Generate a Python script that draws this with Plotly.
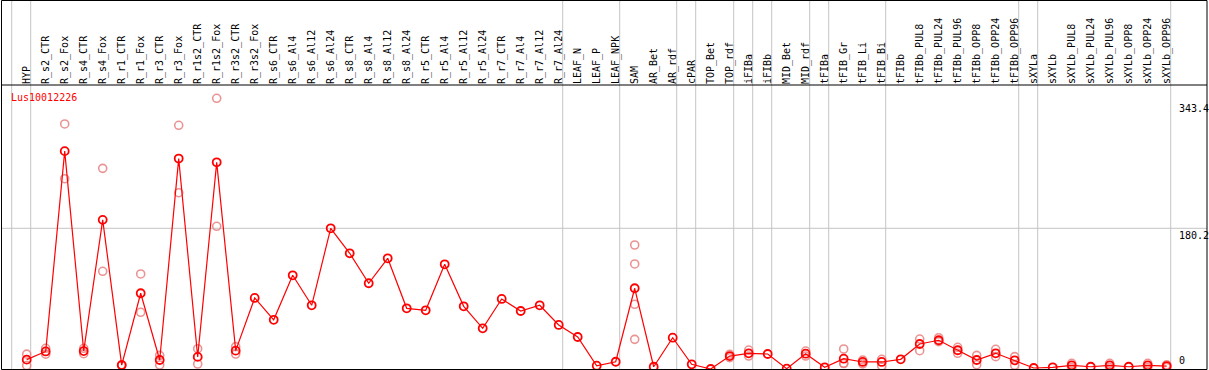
import plotly.graph_objects as go

# ---- data -------------------------------------------------------------
gene = "Lus10012226"

categories = [
    "HYP", "R_s2_CTR", "R_s2_Fox", "R_s4_CTR", "R_s4_Fox", "R_r1_CTR", "R_r1_Fox",
    "R_r3_CTR", "R_r3_Fox", "R_r1s2_CTR", "R_r1s2_Fox", "R_r3s2_CTR", "R_r3s2_Fox",
    "R_s6_CTR", "R_s6_Al4", "R_s6_Al12", "R_s6_Al24", "R_s8_CTR", "R_s8_Al4",
    "R_s8_Al12", "R_s8_Al24", "R_r5_CTR", "R_r5_Al4", "R_r5_Al12", "R_r5_Al24",
    "R_r7_CTR", "R_r7_Al4", "R_r7_Al12", "R_r7_Al24", "LEAF_N", "LEAF_P", "LEAF_NPK",
    "SAM", "AR_Bet", "AR_rdf", "cPAR", "TOP_Bet", "TOP_rdf", "iFIBa", "iFIBb",
    "MID_Bet", "MID_rdf", "tFIBa", "tFIB_Gr", "tFIB_Li", "tFIB_Bi", "tFIBb",
    "tFIBb_PUL8", "tFIBb_PUL24", "tFIBb_PUL96", "tFIBb_OPP8", "tFIBb_OPP24",
    "tFIBb_OPP96", "sXYLa", "sXYLb", "sXYLb_PUL8", "sXYLb_PUL24", "sXYLb_PUL96",
    "sXYLb_OPP8", "sXYLb_OPP24", "sXYLb_OPP96",
]

# mean expression per sample
mean_values = [
    12, 22.5, 279, 23, 191, 5, 97, 11.5, 269.5, 15.5, 264.7, 23.5, 91,
    63, 120, 81.6, 180.2, 148.2, 109.8, 141.8, 77.7, 75.2, 134.1, 80.3, 52.1,
    89.7, 74.3, 81.6, 56.4, 41, 4.2, 9.3,
    103.4, 2.9, 40.1, 6, 0, 16.6, 20.1, 19.2, 0.4, 19.6, 2.2, 13.2, 9, 9, 12.4,
    32, 36.8, 24, 11.5, 20.1, 11.1, 1.3, 2.2, 4.7, 2.9, 4.7, 2.9, 4.7, 3.8,
]

# individual replicates (sample label, value)
rep_samples = [
    "HYP", "HYP", "R_s2_CTR", "R_s2_CTR", "R_s2_Fox", "R_s2_Fox", "R_s4_CTR", "R_s4_CTR",
    "R_s4_Fox", "R_s4_Fox", "R_r1_CTR", "R_r1_CTR", "R_r1_Fox", "R_r1_Fox",
    "R_r3_CTR", "R_r3_CTR", "R_r3_Fox", "R_r3_Fox", "R_r1s2_CTR", "R_r1s2_CTR",
    "R_r1s2_Fox", "R_r1s2_Fox", "R_r3s2_CTR", "R_r3s2_CTR",
    "SAM", "SAM", "SAM", "SAM",
    "TOP_rdf", "TOP_rdf", "iFIBa", "iFIBa", "MID_rdf", "MID_rdf",
    "tFIB_Gr", "tFIB_Gr", "tFIB_Gr", "tFIB_Li", "tFIB_Li", "tFIB_Bi", "tFIB_Bi",
    "tFIBb_PUL8", "tFIBb_PUL8", "tFIBb_PUL24", "tFIBb_PUL24", "tFIBb_PUL96", "tFIBb_PUL96",
    "tFIBb_OPP8", "tFIBb_OPP8", "tFIBb_OPP24", "tFIBb_OPP24", "tFIBb_OPP96", "tFIBb_OPP96",
    "sXYLb_PUL8", "sXYLb_PUL8", "sXYLb_PUL96", "sXYLb_PUL96",
    "sXYLb_OPP24", "sXYLb_OPP24", "sXYLb_OPP96", "sXYLb_OPP96",
]
rep_values = [
    19, 4.5, 26.5, 19, 313.8, 243.7, 26.5, 19.6,
    257, 125.1, 5.5, 4.5, 121.7, 72.6,
    17.5, 5.1, 312.1, 225.8, 26, 6.4,
    346.7, 182.8, 28.6, 19.2,
    158.8, 134.5, 82.9, 38,
    18.8, 14.5, 24.3, 16.6, 23, 16.6,
    25.6, 7.3, 7, 11.5, 6.5, 12.4, 3.8,
    38.4, 23.4, 40.1, 35, 27.8, 20.1,
    17.5, 5.5, 25.2, 15.8, 15.8, 4.7,
    7.3, 2, 7.3, 2,
    7.3, 2, 5.5, 2,
]

# last sample of each group (vertical separators drawn after these)
group_last = ["", "HYP", "R_r7_Al24", "LEAF_NPK", "AR_rdf", "cPAR", "TOP_rdf", "iFIBa",
              "iFIBb", "MID_rdf", "tFIBa", "tFIB_Bi", "tFIBb_OPP96", "sXYLa", "sXYLb_OPP96"]

y_tick_vals = [343.4, 180.2, 0]
y_tick_text = ["343.4", "180.2", "0"]
y_grid_vals = [180.2]

# ---- layout geometry (pixels) ----------------------------------------
W, H = 1209, 370
first_px, step_px = 26.7, 19.0
header_px, bottom_px = 85, 369
y_scale = 0.7808  # px per unit

x_idx = {c: i for i, c in enumerate(categories)}
x_lo = -first_px / step_px
x_hi = (W - first_px) / step_px
y_hi = (bottom_px - header_px) / y_scale

FONT = "DejaVu Sans Mono"
RED = "#ff0000"
PINK = "rgba(232,128,128,0.85)"
GRAY = "#c4c4c4"

fig = go.Figure()

fig.add_trace(go.Scatter(
    x=[x_idx[s] for s in rep_samples], y=rep_values, mode="markers",
    marker=dict(symbol="circle-open", size=8, color=PINK, line=dict(width=1.6, color=PINK)),
    showlegend=False, hoverinfo="skip",
))
fig.add_trace(go.Scatter(
    x=list(range(len(categories))), y=mean_values, mode="lines+markers",
    line=dict(color=RED, width=1.2),
    marker=dict(symbol="circle-open", size=8, color=RED, line=dict(width=1.8, color=RED)),
    showlegend=False,
))

shapes = []
off = 4.0 / step_px
for g in group_last:
    xi = (x_idx[g] if g else -1) + off
    shapes.append(dict(type="line", xref="x", yref="paper", x0=xi, x1=xi, y0=0, y1=1,
                       line=dict(color=GRAY, width=1), layer="below"))
for gv in y_grid_vals:
    shapes.append(dict(type="line", xref="paper", yref="y", x0=1 / W, x1=1207 / W, y0=gv, y1=gv,
                       line=dict(color=GRAY, width=1), layer="below"))
# header separator and outer frame
shapes.append(dict(type="line", xref="paper", yref="paper", x0=1 / W, x1=1207 / W,
                   y0=(H - header_px) / H, y1=(H - header_px) / H, line=dict(color="black", width=1)))
shapes.append(dict(type="rect", xref="paper", yref="paper", x0=1.5 / W, x1=1207 / W,
                   y0=0.5 / H, y1=(H - 0.5) / H, line=dict(color="black", width=1)))

annotations = [dict(text=gene, xref="paper", yref="paper", x=9 / W, y=(H - 98) / H,
                    xanchor="left", yanchor="middle", showarrow=False,
                    font=dict(family=FONT, size=10, color=RED))]
for v, t in zip(y_tick_vals, y_tick_text):
    annotations.append(dict(text=t, xref="paper", yref="y", x=1177 / W, y=v,
                            xanchor="left", yanchor=("bottom" if v == 0 else "top"),
                            yshift=(1 if v == 0 else 0), showarrow=False,
                            font=dict(family=FONT, size=10, color="black")))

fig.update_layout(
    width=W, height=H, margin=dict(l=0, r=0, t=0, b=0, pad=0),
    paper_bgcolor="white", plot_bgcolor="white",
    shapes=shapes, annotations=annotations,
    xaxis=dict(range=[x_lo, x_hi], side="top", tickmode="array",
               tickvals=list(range(len(categories))), ticktext=categories,
               tickangle=-90, ticks="", showgrid=False, zeroline=False, showline=False,
               automargin=False,
               tickfont=dict(family=FONT, size=10, color="black"), fixedrange=True),
    yaxis=dict(range=[0, y_hi], domain=[(H - bottom_px) / H, (H - header_px) / H],
               showgrid=False, zeroline=False, showline=False, showticklabels=False,
               automargin=False, fixedrange=True),
    font=dict(family=FONT),
)

fig.write_html(
    "out.html",
    config={"displayModeBar": False},
    post_script="document.body.style.margin='0';document.body.style.padding='0';",
)
